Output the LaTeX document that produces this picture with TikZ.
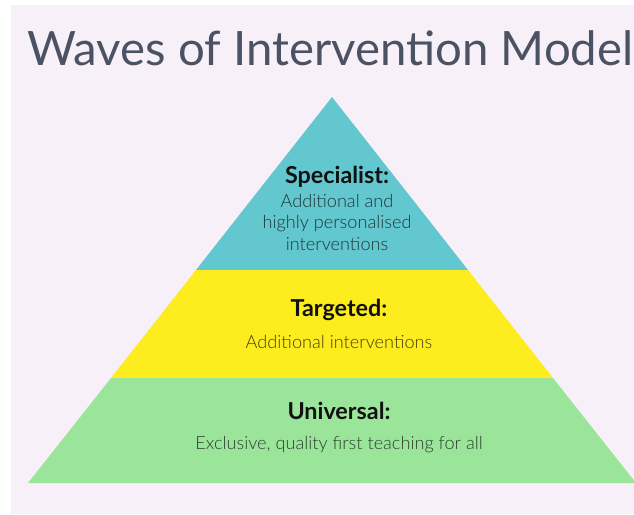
\documentclass[tikz,border=0pt]{standalone}
\usepackage{fontspec}
\setmainfont{Lato}
\newfontfamily\lightfont{Lato Light}
\tikzset{every picture/.style={line width=0.75pt}}
\tikzset{
	tierhead/.style={anchor=base,inner sep=0.75pt,font=\bfseries\fontsize{17.5}{20}\selectfont,color={rgb, 255:red, 17; green, 17; blue, 17 }},
	tiertext/.style={anchor=base,inner sep=0.75pt,align=center,font=\lightfont\fontsize{13.6}{16}\selectfont,color=black,text opacity=0.72},
}
\begin{document}
\begin{tikzpicture}[x=0.75pt,y=0.75pt,yscale=-1,xscale=1]
	\useasboundingbox (0,0) rectangle (634,514);
	\clip (0,0) rectangle (634,514);
	%Shape: Rectangle [background]
	\fill [color=white] (0,0) rectangle (634,514);
	\fill [color={rgb, 255:red, 248; green, 240; blue, 248 }] (11,5) rectangle (634,514);
	
	%Pyramid corners
	\coordinate (apex) at (332,97);
	\coordinate (sl) at (196,270);
	\coordinate (sr) at (468,270);
	\coordinate (tl) at (111,378);
	\coordinate (tr) at (553,378);
	\coordinate (ul) at (28,483);
	\coordinate (ur) at (636,483);
	
	%Shape: Triangle [specialist]
	\fill [color={rgb, 255:red, 99; green, 199; blue, 207 }] (apex) -- (sr) -- (sl) -- cycle ;
	%Shape: Trapezoid [targeted]
	\fill [color={rgb, 255:red, 253; green, 236; blue, 30 }] (sl) -- (sr) -- (tr) -- (tl) -- cycle ;
	%Shape: Trapezoid [universal]
	\fill [color={rgb, 255:red, 155; green, 229; blue, 155 }] (tl) -- (tr) -- (ur) -- (ul) -- cycle ;
	
	% Text Node
	\node [anchor=base west,inner sep=0pt,font=\fontsize{35.5}{42}\selectfont,color={rgb, 255:red, 75; green, 82; blue, 99 }] (title) at (27,65) {Waves of Intervention Model};
	% Text Node
	\node [tierhead] (spechead) at (337,183) {Specialist:};
	% Text Node
	\node [tiertext] (spectext) at (337,250) {Additional and\\highly personalised\\interventions};
	% Text Node
	\node [tierhead] (targhead) at (339,316) {Targeted:};
	% Text Node
	\node [tiertext] (targtext) at (339,348) {Additional interventions};
	% Text Node
	\node [tierhead] (univhead) at (339,419) {Universal:};
	% Text Node
	\node [tiertext] (univtext) at (339,449) {Exclusive, quality first teaching for all};
	
\end{tikzpicture}
\end{document}
